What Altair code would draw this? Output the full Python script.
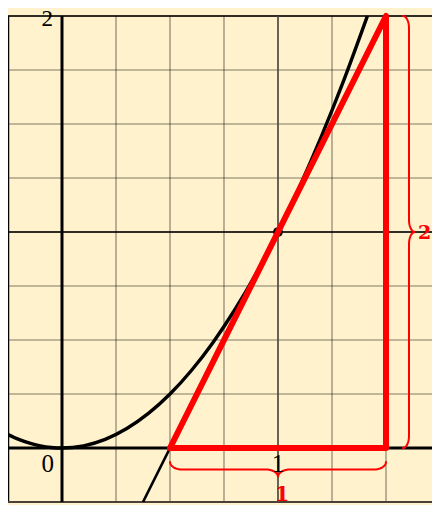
import altair as alt
import numpy as np
import pandas as pd

# ---------------- data ----------------
x_domain = [-0.25, 1.713]
y_domain = [-0.25, 2.0]

grid_x = [-0.25, 0.0, 0.25, 0.5, 0.75, 1.0, 1.25, 1.5]
grid_y = [-0.25, 0.0, 0.25, 0.5, 0.75, 1.0, 1.25, 1.5, 1.75, 2.0]

# parabola (black curve)
parab_x = [-0.25, -0.2, -0.15, -0.1, -0.05, 0.0, 0.1, 0.2, 0.3, 0.4, 0.5,
           0.6, 0.7, 0.8, 0.9, 1.0, 1.1, 1.2, 1.3, 1.414]
parab_y = [0.0625, 0.04, 0.0225, 0.01, 0.0025, 0.0, 0.01, 0.04, 0.09, 0.16, 0.25,
           0.36, 0.49, 0.64, 0.81, 1.0, 1.21, 1.44, 1.69, 2.0]

# tangent line (black)
tangent_x = [0.375, 1.5]
tangent_y = [-0.25, 2.0]

# point of tangency
point_x = [1.0]
point_y = [1.0]

# red slope triangle
tri_x = [0.5, 1.5, 1.5, 0.5]
tri_y = [0.0, 2.0, 0.0, 0.0]

# axis tick labels
tick_x_vals = [0.0, 1.0]
tick_x_text = ["0", "1"]
tick_y_vals = [2.0]
tick_y_text = ["2"]

# brace labels: run and rise
run_text = ["1"]
rise_text = ["2"]

# ---------------- layout ----------------
W, H = 424, 486
UNIT = W / (x_domain[1] - x_domain[0])  # pixels per data unit


def px(n):
    return n / UNIT


xs = alt.Scale(domain=x_domain, nice=False, zero=False)
ys = alt.Scale(domain=y_domain, nice=False, zero=False)


def X(f):
    return alt.X(f, type="quantitative", scale=xs, axis=None)


def Y(f):
    return alt.Y(f, type="quantitative", scale=ys, axis=None)


def brace(a, b, base, rp, ra, sign):
    """curly brace from a to b along an axis, at perpendicular position base"""
    m = (a + b) / 2
    t = np.linspace(0, np.pi / 2, 10)
    left = []
    for tt in t:
        left.append((a + ra - ra * np.cos(tt), base + sign * rp * np.sin(tt)))
    for tt in t:
        left.append((m - ra + ra * np.sin(tt), base + sign * rp * (2 - np.cos(tt))))
    right = [(2 * m - p, q) for (p, q) in reversed(left)]
    return left + right


RED = "#FF0000"

# grid
grid_v = alt.Chart(pd.DataFrame({"v": grid_x})).mark_rule(
    color="black", strokeOpacity=0.5, strokeWidth=1.1).encode(x=X("v"))
grid_h = alt.Chart(pd.DataFrame({"v": grid_y})).mark_rule(
    color="black", strokeOpacity=0.5, strokeWidth=1.1).encode(y=Y("v"))

# frame
frame_l = alt.Chart(pd.DataFrame({"v": [x_domain[0]]})).mark_rule(
    color="black", strokeWidth=2.5).encode(x=X("v"))
frame_t = alt.Chart(pd.DataFrame({"v": [y_domain[1]]})).mark_rule(
    color="black", strokeWidth=1.6).encode(y=Y("v"))
frame_b = alt.Chart(pd.DataFrame({"v": [y_domain[0]]})).mark_rule(
    color="#4a4238", strokeWidth=2).encode(y=Y("v"))

# unit lines
unit_h = alt.Chart(pd.DataFrame({"v": [1.0]})).mark_rule(
    color="black", strokeWidth=1.3).encode(y=Y("v"))
unit_v = alt.Chart(pd.DataFrame({"v": [1.0]})).mark_rule(
    color="#55504a", strokeWidth=1.6).encode(x=X("v"))

# axes
axis_v = alt.Chart(pd.DataFrame({"v": [0.0]})).mark_rule(
    color="black", strokeWidth=3).encode(x=X("v"))
axis_h = alt.Chart(pd.DataFrame({"v": [0.0]})).mark_rule(
    color="black", strokeWidth=3).encode(y=Y("v"))

# parabola
parab = alt.Chart(pd.DataFrame({"x": parab_x, "y": parab_y, "i": range(len(parab_x))})).mark_line(
    color="black", strokeWidth=3.4, interpolate="monotone").encode(x=X("x"), y=Y("y"), order="i:Q")

# tangent
tangent = alt.Chart(pd.DataFrame({"x": tangent_x, "y": tangent_y, "i": range(len(tangent_x))})).mark_line(
    color="black", strokeWidth=2.6).encode(x=X("x"), y=Y("y"), order="i:Q")

# point
pt = alt.Chart(pd.DataFrame({"x": point_x, "y": point_y})).mark_circle(
    color="black", size=95, opacity=1).encode(x=X("x"), y=Y("y"))

# triangle
tri = alt.Chart(pd.DataFrame({"x": tri_x, "y": tri_y, "i": range(len(tri_x))})).mark_line(
    color=RED, strokeWidth=6, strokeJoin="round", strokeCap="round").encode(
    x=X("x"), y=Y("y"), order="i:Q")

# braces
run_a, run_b = tri_x[0], tri_x[1]
rise_a, rise_b = tri_y[2], tri_y[1]
bpts = brace(run_a, run_b, 0.0 - px(14), px(7.5), px(12), -1)
bottom_brace_df = pd.DataFrame({"x": [p for p, q in bpts], "y": [q for p, q in bpts],
                                "i": range(len(bpts))})
rpts = brace(rise_a, rise_b, run_b + px(17), px(6), px(12), 1)
right_brace_df = pd.DataFrame({"y": [p for p, q in rpts], "x": [q for p, q in rpts],
                               "i": range(len(rpts))})
brace_b = alt.Chart(bottom_brace_df).mark_line(color=RED, strokeWidth=2, strokeCap="round").encode(
    x=X("x"), y=Y("y"), order="i:Q")
brace_r = alt.Chart(right_brace_df).mark_line(color=RED, strokeWidth=2, strokeCap="round").encode(
    x=X("x"), y=Y("y"), order="i:Q")

# tick labels
TICK_FONT = "Liberation Serif"
lab0 = alt.Chart(pd.DataFrame({"x": [tick_x_vals[0]], "y": [0.0], "t": [tick_x_text[0]]})).mark_text(
    font=TICK_FONT, fontSize=25, color="black", align="right", baseline="alphabetic", dx=-8, dy=24
).encode(x=X("x"), y=Y("y"), text="t:N")
lab1 = alt.Chart(pd.DataFrame({"x": [tick_x_vals[1]], "y": [0.0], "t": [tick_x_text[1]]})).mark_text(
    font=TICK_FONT, fontSize=25, color="black", align="center", baseline="alphabetic", dx=0, dy=24
).encode(x=X("x"), y=Y("y"), text="t:N")
lab2 = alt.Chart(pd.DataFrame({"x": [0.0], "y": tick_y_vals, "t": tick_y_text})).mark_text(
    font=TICK_FONT, fontSize=23, color="black", align="right", baseline="alphabetic", dx=-9, dy=10
).encode(x=X("x"), y=Y("y"), text="t:N")

# brace labels
run_lab = alt.Chart(pd.DataFrame({"x": [(run_a + run_b) / 2], "y": [0.0], "t": run_text})).mark_text(
    font="DejaVu Serif", fontWeight="bold", fontSize=21, color=RED, align="center",
    baseline="alphabetic", dx=4, dy=53
).encode(x=X("x"), y=Y("y"), text="t:N")
rise_lab = alt.Chart(pd.DataFrame({"x": [run_b], "y": [(rise_a + rise_b) / 2], "t": rise_text})).mark_text(
    font="DejaVu Serif", fontWeight="bold", fontSize=19, color=RED, align="left",
    baseline="alphabetic", dx=32, dy=7
).encode(x=X("x"), y=Y("y"), text="t:N")

chart = alt.layer(
    grid_v, grid_h, frame_l, frame_t, frame_b, unit_h, unit_v, axis_v, axis_h,
    parab, tangent, pt, tri, brace_b, brace_r, lab0, lab1, lab2, run_lab, rise_lab
).properties(
    width=W, height=H,
    padding={"left": 0, "right": 0, "top": 8, "bottom": 4},
    autosize=alt.AutoSizeParams(type="none"),
    background="#FFF2CC",
).configure_view(strokeWidth=0)

chart.save("out.html", embed_options={"renderer": "svg", "actions": False})
